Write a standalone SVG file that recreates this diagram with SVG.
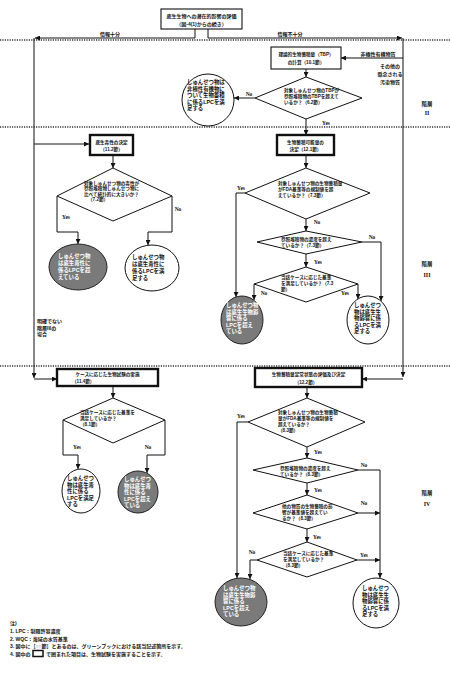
<svg xmlns="http://www.w3.org/2000/svg" width="450" height="676" viewBox="0 0 450 676">
<style>
.ln{fill:none;stroke:#111;stroke-width:1}
.dot{fill:none;stroke:#333;stroke-width:1.3;stroke-dasharray:1.2 1.2}
.box{fill:#fff;stroke:#111;stroke-width:1.1}
.bx2{fill:#fff;stroke:#111;stroke-width:2.4}
.dia{fill:#fff;stroke:#111;stroke-width:1}
.wc{fill:#fff;stroke:#111;stroke-width:1}
.gc{fill:#7a7a7a;stroke:#222;stroke-width:1}
text{font-family:"Liberation Sans","Noto Sans CJK JP",sans-serif;font-weight:bold;fill:#111;dominant-baseline:central}
.t46{font-size:4.6px}
.t5{font-size:5px}
.t55{font-size:5.4px}
.c{text-anchor:middle}
.w{fill:#fff}
.lb{font-family:"Liberation Serif",serif;font-size:5.5px;text-anchor:middle}
.rn{font-family:"Liberation Serif",serif;font-size:6px;text-anchor:middle}
</style>
<defs>
<marker id="ah" viewBox="0 0 6 6" refX="6" refY="3" markerWidth="5" markerHeight="5" markerUnits="userSpaceOnUse" orient="auto"><path d="M0,0 L6,3 L0,6 z" fill="#111"/></marker>
</defs>
<rect x="0" y="0" width="450" height="676" fill="#fff"/>

<g id="tier-separators">
<line class="dot" x1="0" y1="40" x2="450" y2="40"/>
<line class="dot" x1="0" y1="127" x2="450" y2="127"/>
<line class="dot" x1="0" y1="366" x2="450" y2="366"/>
</g>

<g id="connectors">
<path class="ln" marker-end="url(#ah)" d="M195,29 V38 H35"/>
<path class="ln" marker-end="url(#ah)" d="M208,29 V38 H402"/>
<path class="ln" marker-end="url(#ah)" d="M34,38 V378"/>
<path class="ln" marker-end="url(#ah)" d="M34,379 H57"/>
<path class="ln" marker-end="url(#ah)" d="M34,144 H89"/>
<path class="ln" marker-end="url(#ah)" d="M403,38 V377"/>
<path class="ln" marker-end="url(#ah)" d="M403,379 H362"/>
<path class="ln" marker-end="url(#ah)" d="M403,58 H341"/>
<path class="ln" marker-end="url(#ah)" d="M306,69 V77"/>
<path class="ln" marker-end="url(#ah)" d="M255,98 H234"/>
<path class="ln" marker-end="url(#ah)" d="M306,119 V135"/>
<path class="ln" marker-end="url(#ah)" d="M113,155 V168"/>
<path class="ln" marker-end="url(#ah)" d="M57,196 V232 H78 V244"/>
<path class="ln" marker-end="url(#ah)" d="M172,196 V232 H148 V245"/>
<path class="ln" marker-end="url(#ah)" d="M306,155 V168"/>
<path class="ln" marker-end="url(#ah)" d="M245,193 H236 V297"/>
<path class="ln" marker-end="url(#ah)" d="M306,219 V231"/>
<path class="ln" marker-end="url(#ah)" d="M362,242 H381 V301"/>
<path class="ln" marker-end="url(#ah)" d="M306,254 V267"/>
<path class="ln" marker-end="url(#ah)" d="M254,284 V300"/>
<path class="ln" marker-end="url(#ah)" d="M358,284 V299"/>
<path class="ln" marker-end="url(#ah)" d="M113,386 V398"/>
<path class="ln" marker-end="url(#ah)" d="M63,420 V455 H78 V469"/>
<path class="ln" marker-end="url(#ah)" d="M165,420 V455 H147 V473"/>
<path class="ln" marker-end="url(#ah)" d="M307,387 V398"/>
<path class="ln" marker-end="url(#ah)" d="M248,422 H237 V578"/>
<path class="ln" marker-end="url(#ah)" d="M307,447 V458"/>
<path class="ln" marker-end="url(#ah)" d="M358,470 H380 V578"/>
<path class="ln" marker-end="url(#ah)" d="M307,483 V495"/>
<path class="ln" marker-end="url(#ah)" d="M358,513 H380"/>
<path class="ln" marker-end="url(#ah)" d="M307,529 V542"/>
<path class="ln" marker-end="url(#ah)" d="M257,560 H250 V579"/>
<path class="ln" marker-end="url(#ah)" d="M357,560 H380"/>
<text class="t5 c" x="110" y="34">情報十分</text>
<text class="t5 c" x="290" y="34">情報不十分</text>
<text class="t5 c" x="378" y="53.5">非極性有機物質</text>
<text class="lb" x="249" y="94">No</text>
<text class="lb" x="326" y="123">Yes</text>
<text class="lb" x="66" y="217">Yes</text>
<text class="lb" x="178" y="209">No</text>
<text class="lb" x="241" y="188">Yes</text>
<text class="lb" x="317" y="222">No</text>
<text class="lb" x="372" y="237">No</text>
<text class="lb" x="318" y="262">Yes</text>
<text class="lb" x="264" y="293">No</text>
<text class="lb" x="345" y="293">Yes</text>
<text class="lb" x="77" y="447">Yes</text>
<text class="lb" x="148" y="447">No</text>
<text class="lb" x="241" y="416">Yes</text>
<text class="lb" x="318" y="452">Yes</text>
<text class="lb" x="364" y="465">No</text>
<text class="lb" x="318" y="490">Yes</text>
<text class="lb" x="364" y="503">No</text>
<text class="lb" x="317" y="537">Yes</text>
<text class="lb" x="252" y="552">No</text>
<text class="lb" x="364" y="555">Yes</text>
</g>

<g id="n-start">
<rect class="box" x="161" y="9" width="81" height="20"/>
<text class="t5 c" x="201.5" y="15.5">底生生物への潜在的影響の評価</text>
<text class="t5 c" x="201.5" y="23.5">（図-4(1)からの続き）</text>
</g>

<g id="n-tbp">
<rect class="box" x="271" y="47" width="70" height="22"/>
<text class="t46 c" x="306" y="54">理論的生物蓄積量（TBP）</text>
<text class="t46 c" x="306" y="62.5">の計算（10.1節）</text>
</g>

<g id="n-other">
<text class="t5 c" x="390" y="66">その他の</text>
<text class="t5 c" x="390" y="74">懸念される</text>
<text class="t5 c" x="390" y="82">汚染物質</text>
</g>

<g id="d-tbp">
<polygon class="dia" points="306,77 362,98 306,119 255,98"/>
<text class="t46" x="284" y="90">対象しゅんせつ物のTBPが</text>
<text class="t46" x="284" y="96">参照堆積物のTBPを超えて</text>
<text class="t46" x="284" y="102">いるか？（6.2節）</text>
</g>

<g id="c-tbp-meets">
<circle class="wc" cx="208" cy="100" r="26"/>
<text class="t55" x="187" y="82">しゅんせつ物は</text>
<text class="t55" x="187" y="88.5">非極性有機物に</text>
<text class="t55" x="187" y="95">ついて生物蓄積</text>
<text class="t55" x="187" y="101.5">に係るLPCを満</text>
<text class="t55" x="187" y="108">足する</text>
</g>

<g id="n-benthic-tox">
<rect class="bx2" x="90" y="135" width="43" height="20"/>
<text class="t46 c" x="111.5" y="142">底生毒性の決定</text>
<text class="t46 c" x="111.5" y="149.5">（11.2節）</text>
</g>

<g id="d-benthic-tox">
<polygon class="dia" points="113,168 172,196 113,221 57,196"/>
<text class="t46" x="84" y="183">対象しゅんせつ物の毒性が</text>
<text class="t46" x="84" y="188.5">参照堆積物しゅんせつ物に</text>
<text class="t46" x="84" y="194">比べて統計的に大きいか？</text>
<text class="t46" x="88" y="199.5">（7.2節）</text>
</g>

<g id="c-tox-exceeds">
<ellipse class="gc" cx="78" cy="267" rx="29" ry="23"/>
<text class="t55 w" x="58" y="256">しゅんせつ物</text>
<text class="t55 w" x="58" y="263">は底生毒性に</text>
<text class="t55 w" x="58" y="270">係るLPCを超</text>
<text class="t55 w" x="58" y="277">えている</text>
</g>

<g id="c-tox-meets">
<ellipse class="wc" cx="152" cy="268" rx="27" ry="23"/>
<text class="t55" x="132" y="257">しゅんせつ物</text>
<text class="t55" x="132" y="264">は底生毒性に</text>
<text class="t55" x="132" y="271">係るLPCを満</text>
<text class="t55" x="132" y="278">足する</text>
</g>

<g id="n-inconclusive">
<text class="t5" x="37" y="321">明確でない</text>
<text class="t5" x="37" y="327.5">階層IIIの</text>
<text class="t5" x="37" y="334">場合</text>
</g>

<g id="n-bioacc">
<rect class="bx2" x="277" y="135" width="57" height="20"/>
<text class="t46 c" x="305.5" y="142">生物蓄積可能量の</text>
<text class="t46 c" x="305.5" y="149.5">決定（12.1節）</text>
</g>

<g id="d-bioacc-1">
<polygon class="dia" points="306,168 370,193 306,219 245,193"/>
<text class="t46" x="278" y="183">対象しゅんせつ物の生物蓄積量</text>
<text class="t46" x="278" y="189">がFDA基準等の規制値を超</text>
<text class="t46" x="278" y="195">えているか？（7.3節）</text>
</g>

<g id="d-bioacc-2">
<polygon class="dia" points="306,231 362,242 306,254 257,242"/>
<text class="t46" x="281" y="239.5">参照堆積物の濃度を超え</text>
<text class="t46" x="281" y="245.5">ているか？（7.3節）</text>
</g>

<g id="d-bioacc-3">
<polygon class="dia" points="306,267 358,284 306,302 254,284"/>
<text class="t46" x="281" y="277">当該ケースに応じた基準</text>
<text class="t46" x="281" y="283">を満足しているか？（7.3</text>
<text class="t46" x="281" y="289">節）</text>
</g>

<g id="c-bioacc-exceeds">
<ellipse class="gc" cx="242" cy="320" rx="21" ry="24"/>
<text class="t55 w" x="226" y="305">しゅんせつ物</text>
<text class="t55 w" x="226" y="311.5">は底生生物影</text>
<text class="t55 w" x="226" y="318">響に係る</text>
<text class="t55 w" x="226" y="324.5">LPCを超え</text>
<text class="t55 w" x="226" y="331">ている</text>
</g>

<g id="c-bioacc-meets">
<ellipse class="wc" cx="368" cy="320" rx="21" ry="24"/>
<text class="t55" x="354" y="305">しゅんせつ</text>
<text class="t55" x="354" y="311.5">物は底生生</text>
<text class="t55" x="354" y="318">物影響に係</text>
<text class="t55" x="354" y="324.5">るLPCを満</text>
<text class="t55" x="354" y="331">足する</text>
</g>

<g id="n-case-tox">
<rect class="bx2" x="57" y="369" width="101" height="17"/>
<text class="t46 c" x="107.5" y="374.5">ケースに応じた生物試験の実施</text>
<text class="t46" x="72" y="381.5">（11.4節）</text>
</g>

<g id="d-case-tox">
<polygon class="dia" points="113,398 165,420 113,443 63,420"/>
<text class="t46" x="80" y="412">当該ケースに応じた基準を</text>
<text class="t46" x="80" y="418">満足しているか？</text>
<text class="t46" x="80" y="424">（8.1節）</text>
</g>

<g id="c-case-meets">
<ellipse class="wc" cx="81" cy="491" rx="19" ry="22"/>
<text class="t55" x="67" y="478">しゅんせつ</text>
<text class="t55" x="67" y="484.5">物は底生毒</text>
<text class="t55" x="67" y="491">性に係る</text>
<text class="t55" x="67" y="497.5">LPCを満足</text>
<text class="t55" x="67" y="504">する</text>
</g>

<g id="c-case-exceeds">
<ellipse class="gc" cx="138" cy="492" rx="20" ry="21"/>
<text class="t55 w" x="124" y="479">しゅんせつ</text>
<text class="t55 w" x="124" y="485.5">物は底生毒</text>
<text class="t55 w" x="124" y="492">性に係る</text>
<text class="t55 w" x="124" y="498.5">LPCを超え</text>
<text class="t55 w" x="124" y="505">ている</text>
</g>

<g id="n-steady">
<rect class="bx2" x="255" y="368" width="107" height="19"/>
<text class="t46 c" x="308.5" y="374.5">生物蓄積量定常状態の評価及び決定</text>
<text class="t46 c" x="306" y="382">（12.2節）</text>
</g>

<g id="d-steady-1">
<polygon class="dia" points="307,398 365,422 307,447 248,422"/>
<text class="t46" x="278" y="412">対象しゅんせつ物の生物蓄積</text>
<text class="t46" x="278" y="418">量がFDA基準等の規制値を</text>
<text class="t46" x="278" y="424">超えているか？</text>
<text class="t46" x="278" y="430">（8.3節）</text>
</g>

<g id="d-steady-2">
<polygon class="dia" points="307,458 358,470 307,483 253,470"/>
<text class="t46" x="280" y="468">参照堆積物の濃度を超え</text>
<text class="t46" x="280" y="474">ているか？（8.3節）</text>
</g>

<g id="d-steady-3">
<polygon class="dia" points="307,495 358,513 307,529 253,513"/>
<text class="t46" x="282" y="506">他の物質の生物蓄積の影</text>
<text class="t46" x="282" y="512">響が基準値を超えてい</text>
<text class="t46" x="282" y="518">るか？（8.3節）</text>
</g>

<g id="d-steady-4">
<polygon class="dia" points="307,542 357,560 307,577 257,560"/>
<text class="t46" x="283" y="553">当該ケースに応じた基準</text>
<text class="t46" x="283" y="559">を満足しているか？</text>
<text class="t46" x="283" y="565">（8.3節）</text>
</g>

<g id="c-steady-exceeds">
<ellipse class="gc" cx="241" cy="602" rx="26" ry="24"/>
<text class="t55 w" x="223" y="588">しゅんせつ物</text>
<text class="t55 w" x="223" y="594.5">は底生生物影</text>
<text class="t55 w" x="223" y="601">響に係る</text>
<text class="t55 w" x="223" y="607.5">LPCを超え</text>
<text class="t55 w" x="223" y="614">ている</text>
</g>

<g id="c-steady-meets">
<ellipse class="wc" cx="376" cy="603" rx="23" ry="25"/>
<text class="t55" x="362" y="588">しゅんせつ</text>
<text class="t55" x="362" y="594.5">物は底生生</text>
<text class="t55" x="362" y="601">物影響に係</text>
<text class="t55" x="362" y="607.5">るLPCを満</text>
<text class="t55" x="362" y="614">足する</text>
</g>

<g id="tier-labels">
<text class="t55 c" x="427" y="104">階層</text>
<text class="rn" x="427" y="113">II</text>
<text class="t55 c" x="427" y="264">階層</text>
<text class="rn" x="427" y="275">III</text>
<text class="t55 c" x="427" y="493">階層</text>
<text class="rn" x="427" y="504">IV</text>
</g>

<g id="notes">
<text class="t5" x="10" y="623">注)</text>
<text class="t5" x="10" y="631">1. LPC：制限許容濃度</text>
<text class="t5" x="10" y="638.5">2. WQC：海域の水質基準</text>
<text class="t5" x="10" y="646">3. 図中に［○○節］とあるのは、グリーンブックにおける該当記述箇所を示す。</text>
<text class="t5" x="10" y="653.5">4. 図中の</text>
<rect x="33" y="650.5" width="10" height="6" fill="#fff" stroke="#111" stroke-width="1.5"/>
<text class="t5" x="46" y="653.5">で囲まれた項目は、生物試験を実施することを示す。</text>
</g>
</svg>
